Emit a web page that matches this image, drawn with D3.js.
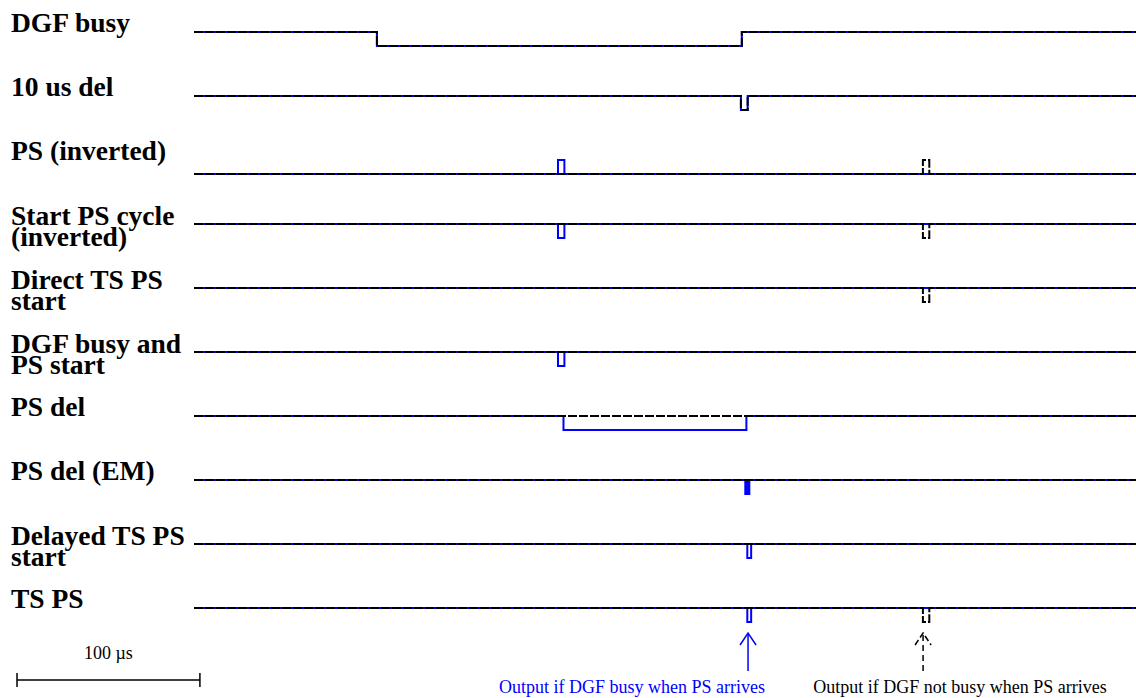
<!DOCTYPE html>
<html>
<head>
<meta charset="utf-8">
<script src="https://cdn.jsdelivr.net/npm/d3@7"></script>
<style>
  body { margin: 0; background: #fff; }
  svg { display: block; }
  .label { font-family: "Liberation Serif", "Times New Roman", serif; font-weight: bold; font-size: 27.5px; fill: #000; }
  .note { font-family: "Liberation Serif", "Times New Roman", serif; font-size: 18px; }
</style>
</head>
<body>
<div class="timing"></div>
<script>
// signal names (one row each), lines of the label
const signals = [
  ["DGF busy"],
  ["10 us del"],
  ["PS (inverted)"],
  ["Start PS cycle", "(inverted)"],
  ["Direct TS PS", "start"],
  ["DGF busy and", "PS start"],
  ["PS del"],
  ["PS del (EM)"],
  ["Delayed TS PS", "start"],
  ["TS PS"]
];

// waveforms as [time in us, level] steps; blue = DGF busy case, black = DGF not busy case
const blueWaves = [
  [[0,1],[100,0],[299.5,1],[520,1]],
  [[0,1],[299,0],[302.7,1],[520,1]],
  [[0,0],[199,1],[202.5,0],[520,0]],
  [[0,1],[199,0],[202.5,1],[520,1]],
  [[0,1],[520,1]],
  [[0,1],[199,0],[202.5,1],[520,1]],
  [[0,1],[202,0],[302,1],[520,1]],
  [[0,1],[301.4,0],[303.6,1],[520,1]],
  [[0,1],[302.5,0],[304.6,1],[520,1]],
  [[0,1],[302.5,0],[304.6,1],[520,1]]
];
const blackWaves = [
  [[0,1],[100,0],[299.5,1],[520,1]],
  [[0,1],[299,0],[302.7,1],[520,1]],
  [[0,0],[398.5,1],[402,0],[520,0]],
  [[0,1],[398.5,0],[402,1],[520,1]],
  [[0,1],[398.5,0],[402,1],[520,1]],
  [[0,1],[520,1]],
  [[0,1],[520,1]],
  [[0,1],[520,1]],
  [[0,1],[520,1]],
  [[0,1],[398.5,0],[402,1],[520,1]]
];

const scaleBarUs = 100;
const arrowTimes = [302.9, 398.6];
const arrowTexts = ["Output if DGF busy when PS arrives", "Output if DGF not busy when PS arrives"];

const width = 1136, height = 698;
const svg = d3.select('.timing').append('svg')
  .attr('width', width)
  .attr('height', height);

const x = d3.scaleLinear().domain([0, 515]).range([194, 1136]);
const row = d3.scaleLinear().domain([0, 1]).range([32, 96]); // 64px per row
const level = d3.scaleLinear().domain([0, 1]).range([14, 0]);

const line = (i) => d3.line()
  .x(d => x(d[0]))
  .y(d => row(i) + level(d[1]))
  .curve(d3.curveStepAfter);

// labels
signals.forEach((lines, i) => {
  const t = svg.append('text').attr('class', 'label').attr('x', 11);
  lines.forEach((s, k) => {
    t.append('tspan').attr('x', 11)
      .attr('y', row(i) + (lines.length > 1 ? 1 : 0) + k * 21)
      .text(s);
  });
});

// blue solid traces
svg.selectAll('.blue')
  .data(blueWaves)
  .enter()
  .append('path')
  .attr('class', 'blue')
  .attr('d', (d, i) => line(i)(d))
  .attr('fill', (d, i) => i == 7 ? '#0000ff' : 'none')
  .attr('stroke', '#0000ff')
  .attr('stroke-width', 2);

// black dashed traces on top
svg.selectAll('.black')
  .data(blackWaves)
  .enter()
  .append('path')
  .attr('class', 'black')
  .attr('d', (d, i) => line(i)(d))
  .attr('fill', 'none')
  .attr('stroke', '#000')
  .attr('stroke-width', 2)
  .attr('stroke-dasharray', '9,2');

// scale bar
const x0 = 17, barY = 680;
const barLen = x(scaleBarUs) - x(0);
svg.append('line').attr('x1', x0).attr('x2', x0 + barLen).attr('y1', barY).attr('y2', barY)
  .attr('stroke', '#000').attr('stroke-width', 1.5);
[x0, x0 + barLen].forEach(px => {
  svg.append('line').attr('x1', px).attr('x2', px).attr('y1', barY - 7).attr('y2', barY + 7)
    .attr('stroke', '#000').attr('stroke-width', 1.5);
});
svg.append('text').attr('class', 'note')
  .attr('x', x0 + barLen / 2).attr('y', 659)
  .attr('text-anchor', 'middle')
  .text(scaleBarUs + ' \u00b5s');

// arrows
const arrowColors = ['#0000ff', '#000'];
const textShift = [-116, 37];
arrowTimes.forEach((t, i) => {
  const px = x(t);
  const g = svg.append('g')
    .attr('stroke', arrowColors[i]).attr('stroke-width', 1.5).attr('fill', 'none');
  g.append('line').attr('x1', px).attr('x2', px).attr('y1', 671).attr('y2', 633)
    .attr('stroke-dasharray', i == 1 ? '6,4' : null);
  g.append('path')
    .attr('d', `M${px - 8},${645} L${px},${633} L${px + 8},${645}`)
    .attr('stroke-dasharray', i == 1 ? '6,3' : null);
  svg.append('text').attr('class', 'note')
    .attr('x', px + textShift[i]).attr('y', 693)
    .attr('text-anchor', 'middle')
    .attr('fill', arrowColors[i])
    .text(arrowTexts[i]);
});
</script>
</body>
</html>
